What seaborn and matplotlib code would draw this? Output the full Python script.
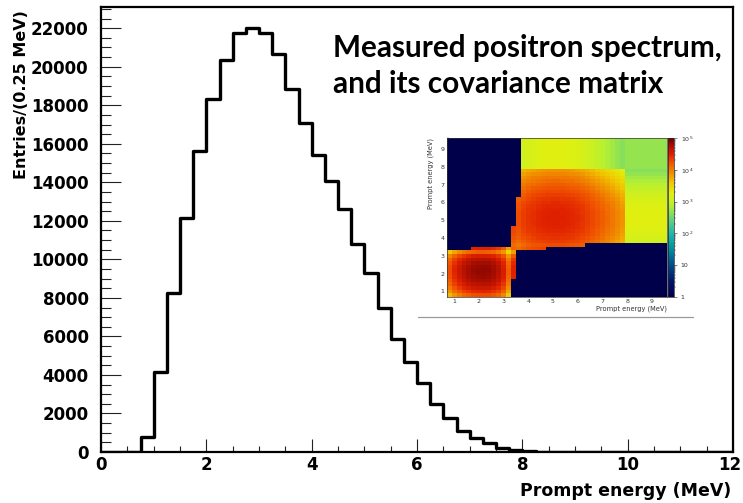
import numpy as np
import pandas as pd
import matplotlib
matplotlib.use("Agg")
import matplotlib.pyplot as plt
from matplotlib.colors import LinearSegmentedColormap, LogNorm
from matplotlib.ticker import MultipleLocator, FixedLocator
from matplotlib.lines import Line2D
import matplotlib.transforms as mtransforms
import seaborn as sns

# ---------------------------------------------------------------------------
# Measured prompt-energy spectrum: entries per 0.25 MeV bin, 0 - 12 MeV
# ---------------------------------------------------------------------------
bin_width = 0.25
energy_edges = [round(bin_width * k, 2) for k in range(49)]
entries = [
    0, 0, 0, 800, 4170, 8240, 12150, 15650,
    18300, 20330, 21750, 21990, 21730, 20660, 18840, 17070,
    15410, 14080, 12610, 10790, 9280, 7465, 5855, 4660,
    3570, 2480, 1780, 1110, 710, 450, 225, 100,
    30, 10, 0, 0, 0, 0, 0, 0,
    0, 0, 0, 0, 0, 0, 0, 0,
]
x_ticks = [0, 2, 4, 6, 8, 10, 12]
y_ticks = list(range(0, 22001, 2000))
title_lines = ["Measured positron spectrum,", "and its covariance matrix"]

# ---------------------------------------------------------------------------
# Covariance matrix of the spectrum (inset)
# bins: 0.7-3.3 in 0.2 MeV steps, one bin 3.3-3.5, 3.5-7.9 in 0.2 MeV steps,
# and a single overflow bin 7.9-9.6 MeV
# ---------------------------------------------------------------------------
cov_edges = ([round(0.7 + 0.2 * k, 2) for k in range(14)] + [3.5]
             + [round(3.7 + 0.2 * k, 2) for k in range(22)] + [9.6])
# per-bin uncertainty (square root of the diagonal)
cov_sigma_low = [70, 110, 150, 190, 225, 250, 265, 270, 260, 235, 190, 130, 55]
cov_sigma_mid = [120]
cov_sigma_high = [105, 125, 140, 152, 162, 170, 176, 178, 178, 176, 170,
                  163, 153, 140, 126, 110, 96, 83, 71, 61, 51, 42]
cov_sigma_tail = [10]
cov_tail_var = 500
# energy range each bin is correlated with (MeV)
cov_reach_lo = [0.7] * 13 + [1.7] + [3.3] + [3.3] * 21 + [3.5]
cov_reach_hi = [3.5] * 13 + [4.7] + [6.3] + [9.6] * 21 + [9.6]
cbar_ticks = [1, 10, 100, 1000, 10000, 100000]
cbar_labels = ["1", "10", "10$^{2}$", "10$^{3}$", "10$^{4}$", "10$^{5}$"]

# ---------------------------------------------------------------------------
sns.set_theme(style="ticks")
plt.rcParams["font.family"] = ["DejaVu Sans"]
plt.rcParams["text.color"] = "black"
plt.rcParams["axes.labelcolor"] = "black"

fig = plt.figure(figsize=(7.43, 5.03), dpi=100)
fig.patch.set_facecolor("white")

W, H = 743.0, 503.0
ax = fig.add_axes([101 / W, 1 - 452 / H, 632 / W, 445 / H])
ax.set_facecolor("white")

spec = pd.DataFrame({
    "energy": [e + bin_width / 2 for e in energy_edges[:-1]],
    "entries": entries,
})
sns.histplot(data=spec, x="energy", weights="entries", bins=energy_edges,
             element="step", fill=False, color="black", linewidth=2.4, ax=ax)

ax.set_xlim(0, 12)
ax.set_ylim(0, 23100)
ax.xaxis.set_major_locator(FixedLocator(x_ticks))
ax.xaxis.set_minor_locator(MultipleLocator(0.5))
ax.yaxis.set_major_locator(FixedLocator(y_ticks))
ax.yaxis.set_minor_locator(MultipleLocator(500))
ax.tick_params(axis="x", which="major", direction="in", length=9.4, width=0.8,
               color="#222222", labelcolor="black", labelsize=12, pad=3)
ax.tick_params(axis="x", which="minor", direction="in", length=4.3, width=0.8,
               color="#222222")
ax.tick_params(axis="y", which="major", direction="in", length=14.4, width=0.8,
               color="#222222", labelcolor="black", labelsize=12, pad=9)
ax.tick_params(axis="y", which="minor", direction="in", length=7.2, width=0.8,
               color="#222222")
ax.set_xticklabels([str(t) for t in x_ticks], fontweight="bold")
ax.set_yticklabels([str(t) for t in y_ticks], fontweight="bold")
# keep the last x label inside the canvas
last = ax.get_xticklabels()[-1]
last.set_transform(last.get_transform()
                   + mtransforms.ScaledTranslation(-3 / 100, 0, fig.dpi_scale_trans))
for s in ax.spines.values():
    s.set_visible(True)
    s.set_linewidth(1.6)
    s.set_color("black")

ax.set_xlabel("Prompt energy (MeV)", fontsize=12.5, fontweight="bold", loc="right")
ax.xaxis.set_label_coords((731 - 101) / 632, (452 - 482) / 445)
ax.set_ylabel("Entries/(0.25 MeV)", fontsize=11.5, fontweight="bold", loc="top")
ax.yaxis.set_label_coords((29 - 101) / 632, (452 - 10) / 445)

fig.text(333 / W, 1 - 56.7 / H, title_lines[0], fontfamily="Lato",
         fontweight="bold", fontsize=21.4, ha="left", va="baseline", color="black")
fig.text(333 / W, 1 - 93.3 / H, title_lines[1], fontfamily="Lato",
         fontweight="bold", fontsize=21.4, ha="left", va="baseline", color="black")

# --- covariance matrix inset ---
sigma = np.array(cov_sigma_low + cov_sigma_mid + cov_sigma_high + cov_sigma_tail, float)
edges = np.array(cov_edges)
centers = 0.5 * (edges[:-1] + edges[1:])
lo = np.array(cov_reach_lo)
hi = np.array(cov_reach_hi)
linked = ((centers[None, :] >= lo[:, None]) & (centers[None, :] <= hi[:, None]))
linked = linked & linked.T
cov = np.where(linked, np.outer(sigma, sigma), 0.0)
cov[-1, -1] = cov_tail_var

palette = LinearSegmentedColormap.from_list("cov", [
    (0.00, "#00004a"), (0.10, "#00166e"), (0.20, "#004d8a"), (0.30, "#00909f"),
    (0.40, "#20b8a8"), (0.50, "#70d870"), (0.58, "#b8f030"), (0.65, "#e0f010"),
    (0.72, "#f0c800"), (0.78, "#f09000"), (0.85, "#f05000"), (0.90, "#e02000"),
    (0.95, "#b01000"), (1.00, "#700000"),
]).with_extremes(bad="#00004a", under="#00004a")

axi = fig.add_axes([446.7 / W, 1 - 296.7 / H, 220 / W, 158.4 / H])
mesh = axi.pcolormesh(edges, edges, np.ma.masked_less_equal(cov, 0),
                      cmap=palette, norm=LogNorm(1, 1e5))
axi.set_facecolor("#00004a")
axi.set_xlim(0.7, 9.6)
axi.set_ylim(0.7, 9.6)
axi.xaxis.set_major_locator(FixedLocator(range(1, 10)))
axi.yaxis.set_major_locator(FixedLocator(range(1, 10)))
axi.xaxis.set_minor_locator(MultipleLocator(0.2))
axi.yaxis.set_minor_locator(MultipleLocator(0.2))
axi.tick_params(which="major", direction="in", length=2.5, width=0.4,
                labelsize=4.5, pad=1.5, colors="#333333")
axi.tick_params(which="minor", direction="in", length=1.2, width=0.3, color="#333333")
for s in axi.spines.values():
    s.set_linewidth(0.5)
    s.set_color("#333333")
axi.set_xlabel("Prompt energy (MeV)", fontsize=4.8, loc="right", labelpad=1,
               color="#333333")
axi.set_ylabel("Prompt energy (MeV)", fontsize=4.8, loc="top", labelpad=5,
               color="#333333")

cax = fig.add_axes([667.7 / W, 1 - 296.7 / H, 6.6 / W, 158.4 / H])
cb = fig.colorbar(mesh, cax=cax)
cb.set_ticks(cbar_ticks)
cb.set_ticklabels(cbar_labels)
cax.tick_params(which="major", length=2.5, width=0.4, labelsize=4.5, pad=2,
                colors="#333333")
cax.tick_params(which="minor", length=1.3, width=0.3, color="#333333")
cb.outline.set_linewidth(0.5)

fig.add_artist(Line2D([418 / W, 693 / W], [1 - 316.7 / H] * 2,
                      color="#9a9a9a", linewidth=0.9))

fig.savefig("out.png", dpi=100, facecolor="white")
